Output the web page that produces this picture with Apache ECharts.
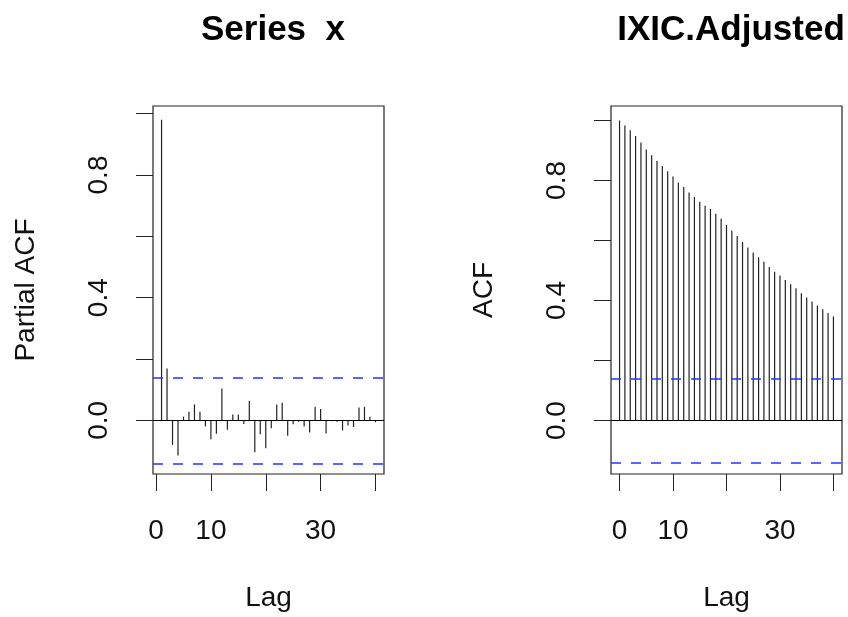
<!DOCTYPE html>
<html>
<head>
<meta charset="utf-8">
<script src="https://cdn.jsdelivr.net/npm/echarts@6/dist/echarts.min.js"></script>
<style>
html,body{margin:0;padding:0;background:#fff;}
#chart{width:848px;height:617px;}
</style>
</head>
<body>
<div id="chart"></div>
<script>
// ---- data ----
const pacfLags = [1,2,3,4,5,6,7,8,9,10,11,12,13,14,15,16,17,18,19,20,21,22,23,24,25,26,27,28,29,30,31,32,33,34,35,36,37,38,39,40];
const pacfValues = [0.980,0.169,-0.080,-0.115,0.012,0.028,0.052,0.028,-0.020,-0.062,-0.044,0.104,-0.031,0.019,0.019,-0.012,0.063,-0.104,-0.045,-0.091,-0.026,0.052,0.057,-0.050,-0.013,-0.005,-0.020,-0.040,0.044,0.037,-0.043,-0.003,-0.005,-0.033,-0.017,-0.022,0.042,0.044,0.012,-0.006];
const acfLags = [0,1,2,3,4,5,6,7,8,9,10,11,12,13,14,15,16,17,18,19,20,21,22,23,24,25,26,27,28,29,30,31,32,33,34,35,36,37,38,39,40];
const acfValues = [1.000,0.983,0.967,0.948,0.926,0.903,0.884,0.865,0.848,0.831,0.813,0.793,0.778,0.760,0.745,0.729,0.716,0.705,0.689,0.672,0.652,0.632,0.615,0.595,0.577,0.560,0.544,0.529,0.512,0.496,0.483,0.468,0.454,0.441,0.424,0.410,0.397,0.383,0.371,0.358,0.347];
const confLimit = 0.136;
const titles = ["Series  x", "IXIC.Adjusted"];
const yNames = ["Partial ACF", "ACF"];
const xName = "Lag";
const xTicks = [0,10,20,30,40];
const xTickLabels = [0,10,30];
const yTicks = [0,0.2,0.4,0.6,0.8,1.0];
const yTickLabels = [0,0.4,0.8];

// ---- chart ----
const FONT = "Liberation Sans, Arial, Helvetica, sans-serif";
const chart = echarts.init(document.getElementById('chart'), null, {renderer:'canvas'});

function stems(lags, vals){ return lags.map((l,i)=>[l, vals[i]]); }

function renderStem(params, api){
  const p0 = api.coord([api.value(0), 0]);
  const p1 = api.coord([api.value(0), api.value(1)]);
  return {type:'line', shape:{x1:p0[0], y1:p0[1], x2:p1[0], y2:p1[1]},
          style:{stroke:'#222', lineWidth:1.2}};
}

function xAxisDef(idx, min, max){
  return {
    type:'value', gridIndex:idx, min:min, max:max,
    splitLine:{show:false}, axisLine:{show:false, onZero:false},
    axisTick:{show:true, inside:false, length:17, customValues:xTicks, lineStyle:{color:'#222', width:1}},
    axisLabel:{show:true, customValues:xTickLabels, margin:43, fontSize:28, color:'#111', fontFamily:FONT},
    name:xName, nameLocation:'middle', nameGap:110,
    nameTextStyle:{fontSize:28, color:'#111', fontFamily:FONT}
  };
}
function yAxisDef(idx, min, max, name){
  return {
    type:'value', gridIndex:idx, min:min, max:max,
    splitLine:{show:false}, axisLine:{show:false, onZero:false},
    axisTick:{show:true, inside:false, length:17, customValues:yTicks, lineStyle:{color:'#222', width:1}},
    axisLabel:{show:true, customValues:yTickLabels, rotate:90, margin:40, fontSize:28, color:'#111', fontFamily:FONT,
               formatter:v=>v.toFixed(1)},
    name:name, nameLocation:'middle', nameGap:113, nameRotate:90,
    nameTextStyle:{fontSize:28, color:'#111', fontFamily:FONT}
  };
}
function refLines(idx){
  return {
    type:'line', xAxisIndex:idx, yAxisIndex:idx, data:[], silent:true,
    markLine:{silent:true, symbol:'none', animation:false, label:{show:false},
      data:[
        {yAxis:0, lineStyle:{color:'#000', width:1, type:'solid'}},
        {yAxis:confLimit, lineStyle:{color:'#2233ff', width:1.5, type:[10,10]}},
        {yAxis:-confLimit, lineStyle:{color:'#2233ff', width:1.5, type:[10,10]}}
      ]}
  };
}

chart.setOption({
  animation:false,
  backgroundColor:'#fff',
  title:[
    {text:titles[0], left:268, top:8, textAlign:'center',
     textStyle:{fontSize:35, fontWeight:'bold', color:'#000', fontFamily:FONT}},
    {text:titles[1], left:726, top:8, textAlign:'center',
     textStyle:{fontSize:35, fontWeight:'bold', color:'#000', fontFamily:FONT}}
  ],
  grid:[
    {left:153, top:106, width:231, height:370, show:true, borderColor:'#222', borderWidth:1.2, backgroundColor:'transparent'},
    {left:611, top:106, width:231, height:371, show:true, borderColor:'#222', borderWidth:1.2, backgroundColor:'transparent'}
  ],
  xAxis:[ xAxisDef(0, -0.56, 41.56), xAxisDef(1, -1.6, 41.6) ],
  yAxis:[ yAxisDef(0, -0.175, 1.025, yNames[0]), yAxisDef(1, -0.178, 1.048, yNames[1]) ],
  series:[
    {type:'custom', xAxisIndex:0, yAxisIndex:0, renderItem:renderStem, data:stems(pacfLags, pacfValues), silent:true},
    refLines(0),
    {type:'custom', xAxisIndex:1, yAxisIndex:1, renderItem:renderStem, data:stems(acfLags, acfValues), silent:true},
    refLines(1)
  ]
});
</script>
</body>
</html>
